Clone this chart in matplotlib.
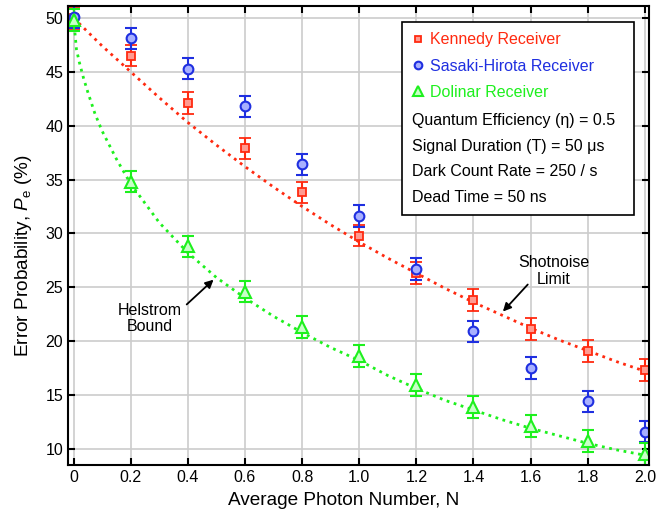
import matplotlib.pyplot as plt
from matplotlib.patches import Rectangle
from matplotlib.lines import Line2D

plt.rcParams['font.family'] = ['Liberation Sans', 'DejaVu Sans']
plt.rcParams['mathtext.fontset'] = 'custom'
plt.rcParams['mathtext.rm'] = 'Liberation Sans'
plt.rcParams['mathtext.it'] = 'Liberation Sans:italic'

N = [0.0, 0.2, 0.4, 0.6, 0.8, 1.0, 1.2, 1.4, 1.6, 1.8, 2.0]
kennedy = [50.0, 46.5, 42.1, 37.9, 33.8, 29.8, 26.3, 23.8, 21.1, 19.1, 17.3]
sasaki = [50.1, 48.1, 45.3, 41.8, 36.4, 31.6, 26.7, 20.9, 17.5, 14.4, 11.6]
dolinar = [49.8, 34.8, 28.8, 24.6, 21.3, 18.6, 15.9, 13.9, 12.1, 10.7, 9.5]
err = 1.0

# theory curves
shot_x = [0.0, 0.1, 0.2, 0.3, 0.4, 0.5, 0.6, 0.7, 0.8, 0.9, 1.0,
          1.1, 1.2, 1.3, 1.4, 1.5, 1.6, 1.7, 1.8, 1.9, 2.0]
shot_y = [50.0, 47.4, 45.0, 42.6, 40.3, 38.2, 36.2, 34.3, 32.5, 30.8, 29.2,
          27.7, 26.3, 24.9, 23.6, 22.4, 21.2, 20.1, 19.1, 18.1, 17.2]
hel_x = [0.0, 0.01, 0.02, 0.035, 0.05, 0.075, 0.1, 0.15, 0.2, 0.3, 0.4, 0.5,
         0.6, 0.7, 0.8, 0.9, 1.0, 1.1, 1.2, 1.3, 1.4, 1.5, 1.6, 1.7, 1.8, 1.9, 2.0]
hel_y = [50.0, 47.1, 45.9, 44.4, 43.1, 41.1, 39.5, 36.9, 34.6, 31.0, 28.2, 25.9,
         24.0, 22.3, 20.8, 19.4, 18.2, 16.8, 15.6, 14.5, 13.6, 12.7, 11.9, 11.2,
         10.5, 9.9, 9.4]

red = '#ff2a10'
blue = '#1f2fe0'
green = '#1ef01e'

fig = plt.figure(figsize=(6.72, 5.12), dpi=100)
ax = fig.add_axes([0.101, 0.092, 0.865, 0.896])

ax.plot(shot_x, shot_y, ':', color=red, lw=2)
ax.plot(hel_x, hel_y, ':', color=green, lw=2)

ax.errorbar(N, kennedy, yerr=err, fmt='s', color=red, mfc='#ff9a90', mec=red,
            ms=5.5, mew=1.3, capsize=4, elinewidth=1.5, capthick=1.5)
ax.errorbar(N, sasaki, yerr=err, fmt='o', color=blue, mfc='#a8b0ff', mec=blue,
            ms=7, mew=1.5, capsize=4, elinewidth=1.5, capthick=1.5)
ax.errorbar(N, dolinar, yerr=err, fmt='^', color=green, mfc='#c8ffc8', mec=green,
            ms=8, mew=1.5, capsize=4, elinewidth=1.5, capthick=1.5)

ax.set_xlim(-0.02, 2.015)
ax.set_ylim(8.5, 51.1)
ax.set_xticks(N)
ax.set_xticklabels(['0', '0.2', '0.4', '0.6', '0.8', '1.0', '1.2', '1.4', '1.6', '1.8', '2.0'])
ax.set_yticks([10, 15, 20, 25, 30, 35, 40, 45, 50])
ax.tick_params(direction='in', top=True, right=True, length=5, width=1.5, labelsize=11.5)
ax.grid(True, color='#cccccc', lw=1.2)
ax.set_axisbelow(True)
for s in ax.spines.values():
    s.set_linewidth(1.5)

ax.set_xlabel('Average Photon Number, N', fontsize=13.7)
ax.set_ylabel(r'Error Probability, $P_{\rm e}$ (%)', fontsize=13.7, va='center')
ax.xaxis.set_label_coords(0.475, -0.058)
ax.yaxis.set_label_coords(-0.076, 0.457)

# legend box
ax.add_patch(Rectangle((0.575, 0.545), 0.399, 0.42, transform=ax.transAxes,
                       facecolor='white', edgecolor='black', lw=1.2, zorder=5))
handles = [
    Line2D([], [], ls='none', marker='s', color=red, mfc='#ff9a90', ms=4.5, mew=1.3),
    Line2D([], [], ls='none', marker='o', color=blue, mfc='#a8b0ff', ms=5.5, mew=1.5),
    Line2D([], [], ls='none', marker='^', color=green, mfc='#c8ffc8', ms=6.5, mew=1.5),
]
leg = ax.legend(handles, ['Kennedy Receiver', 'Sasaki-Hirota Receiver', 'Dolinar Receiver'],
                loc='upper left', bbox_to_anchor=(0.566, 0.974), frameon=False,
                fontsize=11.5, handlelength=0.8, handletextpad=0.4, labelspacing=0.7,
                borderpad=0.4, labelcolor=[red, blue, green])
leg.set_zorder(6)

notes = ['Quantum Efficiency (\u03b7) = 0.5', 'Signal Duration (T) = 50 \u03bcs',
         'Dark Count Rate = 250 / s', 'Dead Time = 50 ns']
for i, t in enumerate(notes):
    ax.text(0.5916, 0.7516 - i * 0.0565, t, transform=ax.transAxes, fontsize=11.5,
            va='center', ha='left', zorder=7)

ax.text(0.266, 22.1, 'Helstrom\nBound', ha='center', va='center', fontsize=11.5,
        linespacing=1.15)
ax.annotate('', xy=(0.49, 25.7), xytext=(0.396, 23.4),
            arrowprops=dict(arrowstyle='-|>', color='black', lw=1.3,
                            shrinkA=0, shrinkB=0, mutation_scale=12))
ax.text(1.68, 26.5, 'Shotnoise\nLimit', ha='center', va='center', fontsize=11.5,
        linespacing=1.15)
ax.annotate('', xy=(1.503, 22.74), xytext=(1.59, 25.25),
            arrowprops=dict(arrowstyle='-|>', color='black', lw=1.3,
                            shrinkA=0, shrinkB=0, mutation_scale=12))

fig.savefig('out.png', dpi=100)
